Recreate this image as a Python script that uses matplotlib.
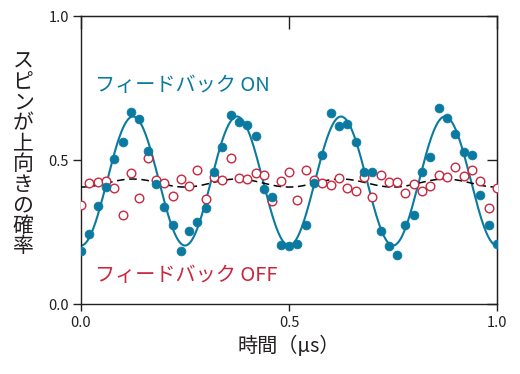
import numpy as np
import matplotlib
matplotlib.use("Agg")
import matplotlib.pyplot as plt

plt.rcParams["font.family"] = ["Noto Sans CJK JP", "DejaVu Sans"]

# ---------------------------------------------------------------------------
# Data (time in microseconds, probability of spin up)
# ---------------------------------------------------------------------------
TIME_US = [
    0.00, 0.02, 0.04, 0.06, 0.08, 0.10, 0.12, 0.14, 0.16, 0.18,
    0.20, 0.22, 0.24, 0.26, 0.28, 0.30, 0.32, 0.34, 0.36, 0.38,
    0.40, 0.42, 0.44, 0.46, 0.48, 0.50, 0.52, 0.54, 0.56, 0.58,
    0.60, 0.62, 0.64, 0.66, 0.68, 0.70, 0.72, 0.74, 0.76, 0.78,
    0.80, 0.82, 0.84, 0.86, 0.88, 0.90, 0.92, 0.94, 0.96, 0.98,
    1.00,
]

FEEDBACK_ON = [
    0.184, 0.243, 0.341, 0.406, 0.502, 0.562, 0.666, 0.642, 0.532, 0.418,
    0.338, 0.273, 0.184, 0.253, 0.284, 0.332, 0.457, 0.546, 0.656, 0.631,
    0.622, 0.583, 0.401, 0.373, 0.204, 0.200, 0.208, 0.273, 0.421, 0.517,
    0.662, 0.619, 0.625, 0.561, 0.457, 0.457, 0.253, 0.200, 0.169, 0.274,
    0.308, 0.457, 0.511, 0.681, 0.646, 0.590, 0.527, 0.517, 0.377, 0.274,
    0.208,
]

FEEDBACK_OFF = [
    0.343, 0.419, 0.422, 0.426, 0.403, 0.308, 0.454, 0.368, 0.508, 0.431,
    0.419, 0.374, 0.433, 0.408, 0.467, 0.363, 0.442, 0.431, 0.506, 0.436,
    0.433, 0.454, 0.448, 0.358, 0.428, 0.459, 0.361, 0.467, 0.431, 0.421,
    0.412, 0.438, 0.403, 0.394, 0.442, 0.373, 0.449, 0.424, 0.422, 0.387,
    0.418, 0.391, 0.408, 0.448, 0.440, 0.477, 0.444, 0.467, 0.427, 0.333,
    0.404,
]

# fitted cosine models: offset, amplitude, period (us)
ON_FIT = (0.427, 0.224, 0.25)
OFF_FIT = (0.420, 0.014, 0.25)

TICKS = [0.0, 0.5, 1.0]
TICK_LABELS = ["0.0", "0.5", "1.0"]

BLUE = "#0b7aa1"
RED = "#c9283f"
INK = "#231f20"


def cosine_model(t, params):
    offset, amp, period = params
    return offset - amp * np.cos(2 * np.pi * t / period)


def main() -> None:
    fig = plt.figure(figsize=(5.2, 3.74), dpi=100)
    ax = fig.add_axes([81 / 520, 70 / 374, 416 / 520, 288 / 374])

    t_fine = np.linspace(0, 1, 600)

    # fits
    ax.plot(t_fine, cosine_model(t_fine, ON_FIT), color=BLUE, lw=1.5, zorder=2)
    ax.plot(t_fine, cosine_model(t_fine, OFF_FIT), color="black", lw=1.1,
            linestyle=(0, (5, 3)), zorder=3)

    # measurements
    ax.plot(TIME_US, FEEDBACK_OFF, linestyle="none", marker="o", ms=6.2,
            mfc="white", mec=RED, mew=1.0, zorder=4)
    ax.plot(TIME_US, FEEDBACK_ON, linestyle="none", marker="o", ms=6.4,
            mfc=BLUE, mec=BLUE, mew=0.5, zorder=5)

    # labels inside the plot
    ax.text(0.034, 0.757, "フィードバック ON", transform=ax.transAxes,
            color=BLUE, fontsize=14.5, ha="left", va="center")
    ax.text(0.034, 0.100, "フィードバック OFF", transform=ax.transAxes,
            color=RED, fontsize=14.5, ha="left", va="center")

    # axes
    ax.set_xlim(0, 1)
    ax.set_ylim(0, 1)
    ax.set_xticks(TICKS, TICK_LABELS)
    ax.set_yticks(TICKS, TICK_LABELS)
    for sp in ax.spines.values():
        sp.set_color(INK)
        sp.set_linewidth(1.0)
    ax.tick_params(axis="x", direction="out", length=5, width=1.0, pad=3.5,
                   labelsize=10.5, colors=INK)
    ax.tick_params(axis="y", direction="out", length=5.8, width=1.0, pad=3,
                   labelsize=10.5, colors=INK)

    top = ax.secondary_xaxis("top")
    top.set_xticks(TICKS, [])
    top.tick_params(direction="in", length=9, width=1.0, colors=INK)
    top.spines["top"].set_color(INK)
    right = ax.secondary_yaxis("right")
    right.set_yticks(TICKS, [])
    right.tick_params(direction="in", length=7.5, width=1.0, colors=INK)
    right.spines["right"].set_color(INK)

    ax.set_xlabel("時間（μs）", fontsize=14.5, color=INK, labelpad=4)

    # vertical (tategaki) y label
    fig.text(23 / 520, 1 - 154 / 374, "\n".join("スピンが上向きの確率"),
             ha="center", va="center", fontsize=15, linespacing=0.91,
             color=INK)

    fig.savefig("out.png", dpi=100)


if __name__ == "__main__":
    main()
